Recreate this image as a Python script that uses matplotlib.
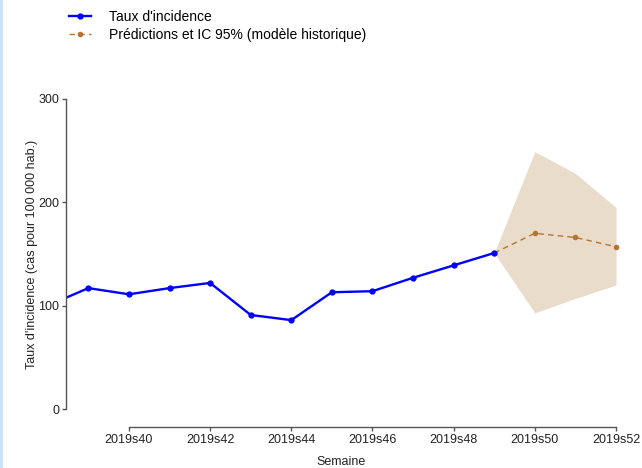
import matplotlib.pyplot as plt
from matplotlib.patches import Rectangle

plt.rcParams['font.family'] = ['Liberation Sans', 'DejaVu Sans']

# données observées (numéro de semaine 2019)
semaines = [38, 39, 40, 41, 42, 43, 44, 45, 46, 47, 48, 49]
taux = [100, 117, 111, 117, 122, 91, 86, 113, 114, 127, 139, 151]

# prédictions et IC 95%
sem_pred = [49, 50, 51, 52]
pred = [151, 170, 166, 157]
ic_bas = [151, 93, 107, 120]
ic_haut = [151, 249, 228, 195]

ticks_x = [40, 42, 44, 46, 48, 50, 52]
labels_x = ['2019s%d' % s for s in ticks_x]
ticks_y = [0, 100, 200, 300]

fig = plt.figure(figsize=(6.42, 4.68), dpi=100)
ax = fig.add_axes([66 / 642, 59 / 468, 550 / 642, 310 / 468])

# bandeau bleu clair sur le bord gauche
fig.patches.append(Rectangle((0, 0), 3 / 642, 1, transform=fig.transFigure,
                             facecolor='#cfe2f5', edgecolor='none'))

ax.fill_between(sem_pred, ic_bas, ic_haut, color='#e9dccb', linewidth=0, clip_on=False)
ax.plot(sem_pred, pred, color='#b8732f', linestyle='--', linewidth=1.0,
        marker='o', markersize=3, clip_on=False, dashes=(4, 3),
        label='Prédictions et IC 95% (modèle historique)')
ax.plot(semaines, taux, color='#0000ff', linewidth=1.7, marker='o', markersize=3.5,
        label="Taux d'incidence")

ax.set_xlim(38.45, 52)
ax.set_ylim(0, 300)

for s in ['top', 'right']:
    ax.spines[s].set_visible(False)
ax.spines['bottom'].set_position(('outward', 13))
ax.spines['bottom'].set_bounds(40, 52)
ax.spines['left'].set_bounds(0, 300)
for s in ['bottom', 'left']:
    ax.spines[s].set_color('#555555')
    ax.spines[s].set_linewidth(1.0)

ax.set_xticks(ticks_x)
ax.set_xticklabels(labels_x)
ax.set_yticks(ticks_y)
ax.tick_params(axis='both', direction='out', length=3, width=1.0, color='#555555',
               labelsize=9, labelcolor='#222222', pad=2)

ax.set_ylabel("Taux d'incidence (cas pour 100 000 hab.)", fontsize=9, color='#222222')
ax.yaxis.set_label_coords(-0.05, 0.5)
fig.text(341 / 642, 1 - 462 / 468, 'Semaine', ha='center', va='center',
         fontsize=9, color='#222222')

handles, labels = ax.get_legend_handles_labels()
fig.legend(handles[::-1], labels[::-1], loc='upper left',
           bbox_to_anchor=(69 / 642, 1 - 10 / 468), frameon=False, fontsize=10,
           handlelength=1.6, labelspacing=0.3, handletextpad=1.3, borderaxespad=0,
           borderpad=0)

fig.savefig('out.png', dpi=100)
